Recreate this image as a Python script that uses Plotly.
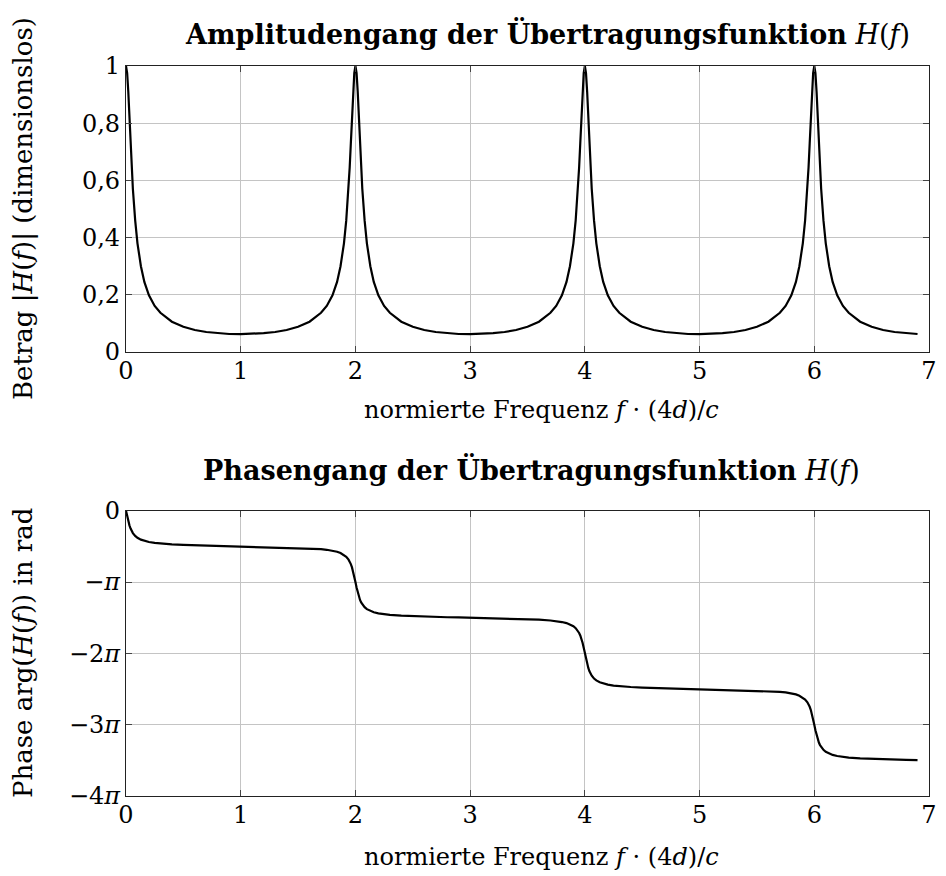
import plotly.graph_objects as go

# normierte Frequenz f·(4d)/c – shared sample points of both curves
freq = [
    0.00, 0.01, 0.02, 0.03, 0.04, 0.05, 0.06, 0.08, 0.10, 0.13, 0.16, 0.20, 0.25, 0.30, 0.40, 0.50, 0.60, 0.70, 0.80, 0.90,
    1.00, 1.10, 1.20, 1.30, 1.40, 1.50, 1.60, 1.70, 1.75, 1.80, 1.84, 1.87, 1.90, 1.92, 1.94, 1.95, 1.96, 1.97, 1.98, 1.99,
    2.00, 2.01, 2.02, 2.03, 2.04, 2.05, 2.06, 2.08, 2.10, 2.13, 2.16, 2.20, 2.25, 2.30, 2.40, 2.50, 2.60, 2.70, 2.80, 2.90,
    3.00, 3.10, 3.20, 3.30, 3.40, 3.50, 3.60, 3.70, 3.75, 3.80, 3.84, 3.87, 3.90, 3.92, 3.94, 3.95, 3.96, 3.97, 3.98, 3.99,
    4.00, 4.01, 4.02, 4.03, 4.04, 4.05, 4.06, 4.08, 4.10, 4.13, 4.16, 4.20, 4.25, 4.30, 4.40, 4.50, 4.60, 4.70, 4.80, 4.90,
    5.00, 5.10, 5.20, 5.30, 5.40, 5.50, 5.60, 5.70, 5.75, 5.80, 5.84, 5.87, 5.90, 5.92, 5.94, 5.95, 5.96, 5.97, 5.98, 5.99,
    6.00, 6.01, 6.02, 6.03, 6.04, 6.05, 6.06, 6.08, 6.10, 6.13, 6.16, 6.20, 6.25, 6.30, 6.40, 6.50, 6.60, 6.70, 6.80, 6.90,
]

# Betrag |H(f)|
magnitude = [
    1.000, 0.975, 0.910, 0.820, 0.730, 0.645, 0.570, 0.460, 0.380, 0.300, 0.245, 0.198, 0.161, 0.137, 0.106, 0.088, 0.077, 0.070, 0.066, 0.063,
    0.0625, 0.063, 0.066, 0.070, 0.077, 0.088, 0.106, 0.137, 0.161, 0.198, 0.245, 0.300, 0.380, 0.460, 0.570, 0.645, 0.730, 0.820, 0.910, 0.975,
    1.000, 0.975, 0.910, 0.820, 0.730, 0.645, 0.570, 0.460, 0.380, 0.300, 0.245, 0.198, 0.161, 0.137, 0.106, 0.088, 0.077, 0.070, 0.066, 0.063,
    0.0625, 0.063, 0.066, 0.070, 0.077, 0.088, 0.106, 0.137, 0.161, 0.198, 0.245, 0.300, 0.380, 0.460, 0.570, 0.645, 0.730, 0.820, 0.910, 0.975,
    1.000, 0.975, 0.910, 0.820, 0.730, 0.645, 0.570, 0.460, 0.380, 0.300, 0.245, 0.198, 0.161, 0.137, 0.106, 0.088, 0.077, 0.070, 0.066, 0.063,
    0.0625, 0.063, 0.066, 0.070, 0.077, 0.088, 0.106, 0.137, 0.161, 0.198, 0.245, 0.300, 0.380, 0.460, 0.570, 0.645, 0.730, 0.820, 0.910, 0.975,
    1.000, 0.975, 0.910, 0.820, 0.730, 0.645, 0.570, 0.460, 0.380, 0.300, 0.245, 0.198, 0.161, 0.137, 0.106, 0.088, 0.077, 0.070, 0.066, 0.063,
]

# Phase arg(H(f)) in Vielfachen von π
phase_pi = [
    0.000, -0.078, -0.148, -0.205, -0.251, -0.286, -0.314, -0.353, -0.380, -0.406, -0.424, -0.439, -0.452, -0.461, -0.472, -0.480, -0.485, -0.490, -0.494, -0.497,
    -0.500, -0.503, -0.506, -0.510, -0.515, -0.520, -0.528, -0.539, -0.548, -0.561, -0.576, -0.594, -0.620, -0.647, -0.686, -0.714, -0.749, -0.795, -0.852, -0.922,
    -1.000, -1.078, -1.148, -1.205, -1.251, -1.286, -1.314, -1.353, -1.380, -1.406, -1.424, -1.439, -1.452, -1.461, -1.472, -1.480, -1.485, -1.490, -1.494, -1.497,
    -1.500, -1.503, -1.506, -1.510, -1.515, -1.520, -1.528, -1.539, -1.548, -1.561, -1.576, -1.594, -1.620, -1.647, -1.686, -1.714, -1.749, -1.795, -1.852, -1.922,
    -2.000, -2.078, -2.148, -2.205, -2.251, -2.286, -2.314, -2.353, -2.380, -2.406, -2.424, -2.439, -2.452, -2.461, -2.472, -2.480, -2.485, -2.490, -2.494, -2.497,
    -2.500, -2.503, -2.506, -2.510, -2.515, -2.520, -2.528, -2.539, -2.548, -2.561, -2.576, -2.594, -2.620, -2.647, -2.686, -2.714, -2.749, -2.795, -2.852, -2.922,
    -3.000, -3.078, -3.148, -3.205, -3.251, -3.286, -3.314, -3.353, -3.380, -3.406, -3.424, -3.439, -3.452, -3.461, -3.472, -3.480, -3.485, -3.490, -3.494, -3.497,
]

x_ticks = [0, 1, 2, 3, 4, 5, 6, 7]
mag_ticks = [0, 0.2, 0.4, 0.6, 0.8, 1]
mag_tick_text = ["0", "0,2", "0,4", "0,6", "0,8", "1"]
phase_ticks = [0, -1, -2, -3, -4]
phase_tick_text = ["0", "−<i>π</i>", "−2<i>π</i>", "−3<i>π</i>", "−4<i>π</i>"]

FONT = "DejaVu Serif"
FS = 24          # tick labels and x-axis labels
FS_TITLE = 27    # bold panel titles
FS_YLAB = 26     # rotated y-axis labels
W, H = 946, 876
ML, MR, MT, MB = 126, 9, 66, 80
PW, PH = W - ML - MR, H - MT - MB


def px(xp):
    return (xp - ML) / PW


def py(yp):
    return 1 - (yp - MT) / PH


top_dom = [py(352), 1.0]
bot_dom = [0.0, py(510.7)]

fig = go.Figure()
fig.add_trace(go.Scatter(x=freq, y=magnitude, mode="lines",
                         line=dict(color="black", width=2.2),
                         xaxis="x", yaxis="y", showlegend=False))
fig.add_trace(go.Scatter(x=freq, y=phase_pi, mode="lines",
                         line=dict(color="black", width=2.2),
                         xaxis="x2", yaxis="y2", showlegend=False))

axis_common = dict(
    showgrid=True, gridcolor="#c4c4c4", gridwidth=1,
    showline=True, linecolor="#222222", linewidth=1.2, mirror="ticks",
    ticks="inside", ticklen=6, tickcolor="#444444", tickwidth=1,
    zeroline=False, tickfont=dict(family=FONT, size=FS, color="black"),
)
x_extra = dict(ticklabelstandoff=-3)
y_extra = dict(ticklabelstandoff=0)

fig.update_layout(
    width=W, height=H,
    margin=dict(l=ML, r=MR, t=MT, b=MB),
    paper_bgcolor="white", plot_bgcolor="white",
    font=dict(family=FONT, size=FS, color="black"),
    xaxis=dict(domain=[0, 1], range=[0, 7], tickvals=x_ticks, anchor="y", **axis_common, **x_extra),
    yaxis=dict(domain=top_dom, range=[0, 1], tickvals=mag_ticks, ticktext=mag_tick_text,
               anchor="x", **axis_common, **y_extra),
    xaxis2=dict(domain=[0, 1], range=[0, 7], tickvals=x_ticks, anchor="y2", **axis_common, **x_extra),
    yaxis2=dict(domain=bot_dom, range=[-4, 0], tickvals=phase_ticks, ticktext=phase_tick_text,
                anchor="x2", **axis_common, **y_extra),
)

annotations = [
    dict(text="<b>Amplitudengang der Übertragungsfunktion</b> <i>H</i>(<i>f</i>)",
         x=px(552), y=py(34), size=FS_TITLE),
    dict(text="<b>Phasengang der Übertragungsfunktion</b> <i>H</i>(<i>f</i>)",
         x=px(536), y=py(470), size=FS_TITLE),
    dict(text="normierte Frequenz <i>f</i> · (4<i>d</i>)/<i>c</i>",
         x=px(546), y=py(410), size=FS),
    dict(text="normierte Frequenz <i>f</i> · (4<i>d</i>)/<i>c</i>",
         x=px(546), y=py(857), size=FS),
    dict(text="Betrag |<i>H</i>(<i>f</i>)| (dimensionslos)",
         x=px(22), y=py(209), size=FS_YLAB, textangle=-90),
    dict(text="Phase arg(<i>H</i>(<i>f</i>)) in rad",
         x=px(22), y=py(653), size=FS_YLAB, textangle=-90),
]
for a in annotations:
    size = a.pop("size")
    fig.add_annotation(xref="paper", yref="paper", showarrow=False,
                       xanchor="center", yanchor="middle",
                       font=dict(family=FONT, size=size, color="black"), **a)

fig.write_html("out.html")
